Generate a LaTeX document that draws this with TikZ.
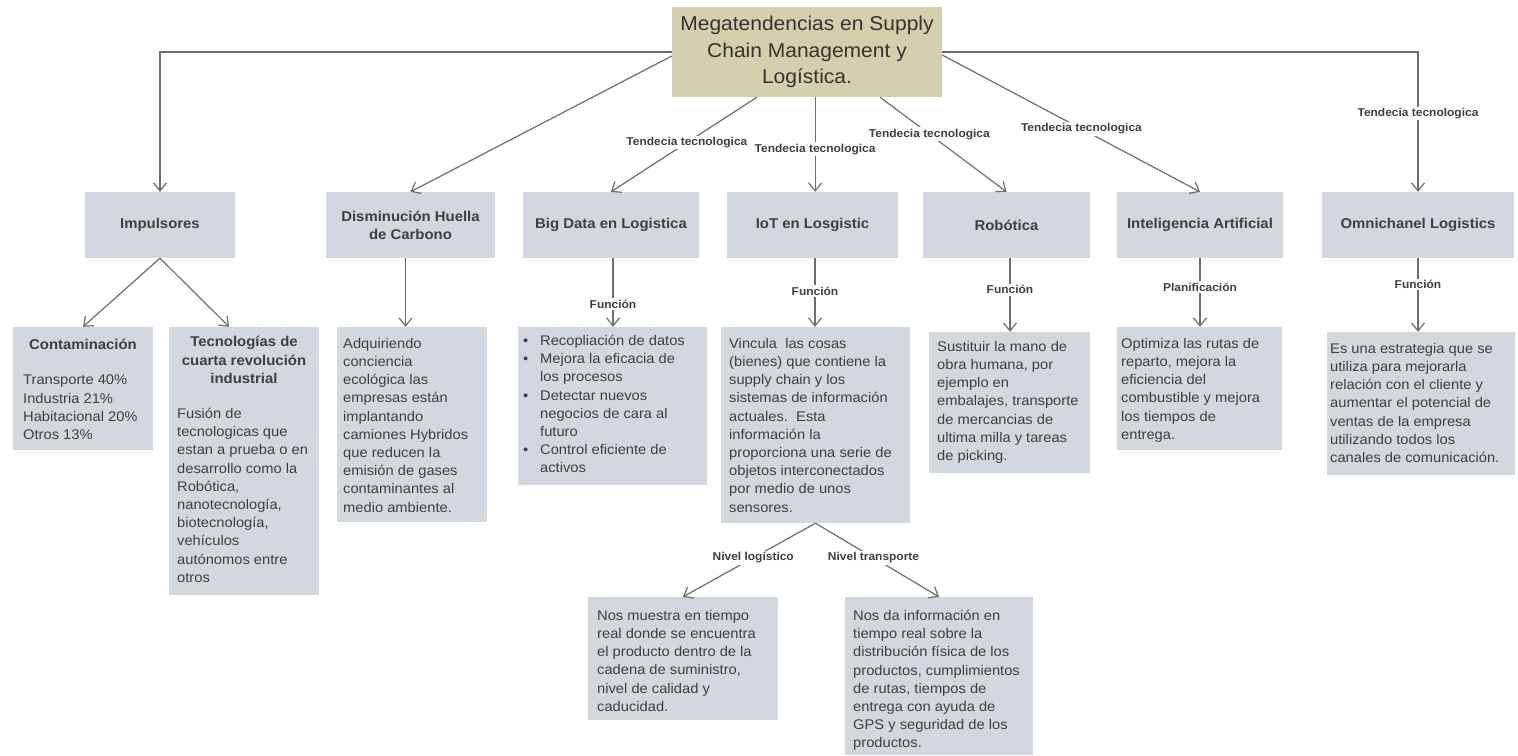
\documentclass[tikz,border=0pt]{standalone}
\usepackage{fontspec}
\setmainfont{Liberation Sans}[FakeStretch=1.05]
\usetikzlibrary{arrows.meta,calc,fit}
\definecolor{boxgray}{HTML}{D3D7DE}
\definecolor{titletan}{HTML}{D6CFAE}
\definecolor{ink}{HTML}{3F3F3F}
\definecolor{linegray}{HTML}{6E6E6E}
\begin{document}
\begin{tikzpicture}[x=1pt,y=-1pt,
  mbox/.style={fill=boxgray,inner sep=0pt,draw=none},
  hdtext/.style={font=\fontsize{14.2}{18.2}\selectfont\bfseries,text=ink,align=center,inner sep=0pt},
  bdtext/.style={font=\fontsize{14}{18.2}\selectfont,text=ink,align=left,inner sep=0pt,anchor=north west},
  lbl/.style={font=\fontsize{11.4}{13}\selectfont\bfseries,text=ink,fill=white,inner sep=1.5pt},
  conn/.style={draw=linegray,line width=1.2pt,-{Straight Barb[length=8pt,width=13pt]}}]
\useasboundingbox[fill=white] (0,0) rectangle (1518,755);

% ---------- boxes ----------
\node[mbox,fill=titletan,fit={(672,7) (942,97)}] (title) {};
\node[mbox,fit={(85,192) (235,258)}] (imp) {};
\node[mbox,fit={(326,192) (495,258)}] (dis) {};
\node[mbox,fit={(523,192) (699,258)}] (bd) {};
\node[mbox,fit={(727,192) (898,258)}] (iot) {};
\node[mbox,fit={(923,192) (1090,258)}] (rob) {};
\node[mbox,fit={(1117,192) (1283,258)}] (ia) {};
\node[mbox,fit={(1322,192) (1514,258)}] (omni) {};
\node[mbox,fit={(13,327) (153,450)}] (cont) {};
\node[mbox,fit={(169,327) (319,595)}] (tec) {};
\node[mbox,fit={(337,327) (487,522)}] (adq) {};
\node[mbox,fit={(518,327) (707,485)}] (bdl) {};
\node[mbox,fit={(721,327) (910,523)}] (iotl) {};
\node[mbox,fit={(929,332) (1090,473)}] (robl) {};
\node[mbox,fit={(1117,327) (1282,450)}] (ial) {};
\node[mbox,fit={(1327,332) (1515,475)}] (omnil) {};
\node[mbox,fit={(588,597) (778,720)}] (nm) {};
\node[mbox,fit={(845,597) (1033,755)}] (nd) {};

% ---------- texts ----------
\node[font=\fontsize{20}{26.5}\selectfont,text=black!80,align=center,inner sep=0pt] (title-t) at (title.center)
  {Megatendencias en Supply\\Chain Management y\\Logística.};
\node[hdtext] (imp-t) at (imp.center) {Impulsores};
\node[hdtext] (dis-t) at (dis.center) {Disminución Huella\\de Carbono};
\node[hdtext] (bd-t) at (bd.center) {Big Data en Logistica};
\node[hdtext] (iot-t) at (iot.center) {IoT en Losgistic};
\node[hdtext] (rob-t) at (rob.center) {Robótica};
\node[hdtext] (ia-t) at (ia.center) {Inteligencia Artificial};
\node[hdtext] (omni-t) at (omni.center) {Omnichanel Logistics};

\node[hdtext] (cont-h) at (83,344) {Contaminación};
\node[bdtext] (cont-t) at (23,375) {Transporte 40\%\\Industria 21\%\\Habitacional 20\%\\Otros 13\%};
\node[hdtext] (tec-h) at (244,360) {Tecnologías de\\cuarta revolución\\industrial};
\node[bdtext] (tec-t) at (177,408) {Fusión de\\tecnologicas que\\estan a prueba o en\\desarrollo como la\\Robótica,\\nanotecnología,\\biotecnología,\\vehículos\\autónomos entre\\otros};
\node[bdtext] (adq-t) at (343,338) {Adquiriendo\\conciencia\\ecológica las\\empresas están\\implantando\\camiones Hybridos\\que reducen la\\emisión de gases\\contaminantes al\\medio ambiente.};
\node[bdtext] (bdl-t) at (523,335) {\makebox[17pt][l]{\textbullet}Recopliación de datos\\
  \makebox[17pt][l]{\textbullet}Mejora la eficacia de\\\hspace*{17pt}los procesos\\
  \makebox[17pt][l]{\textbullet}Detectar nuevos\\\hspace*{17pt}negocios de cara al\\\hspace*{17pt}futuro\\
  \makebox[17pt][l]{\textbullet}Control eficiente de\\\hspace*{17pt}activos};
\node[bdtext] (iotl-t) at (729,338) {Vincula\ \ las cosas\\(bienes) que contiene la\\supply chain y los\\sistemas de información\\actuales.\ \ Esta\\información la\\proporciona una serie de\\objetos interconectados\\por medio de unos\\sensores.};
\node[bdtext] (robl-t) at (937,341) {Sustituir la mano de\\obra humana, por\\ejemplo en\\embalajes, transporte\\de mercancias de\\ultima milla y tareas\\de picking.};
\node[bdtext] (ial-t) at (1121,338) {Optimiza las rutas de\\reparto, mejora la\\eficiencia del\\combustible y mejora\\los tiempos de\\entrega.};
\node[bdtext] (omnil-t) at (1330,343) {Es una estrategia que se\\utiliza para mejorarla\\relación con el cliente y\\aumentar el potencial de\\ventas de la empresa\\utilizando todos los\\canales de comunicación.};
\node[bdtext] (nm-t) at (597,610) {Nos muestra en tiempo\\real donde se encuentra\\el producto dentro de la\\cadena de suministro,\\nivel de calidad y\\caducidad.};
\node[bdtext] (nd-t) at (853,610) {Nos da información en\\tiempo real sobre la\\distribución física de los\\productos, cumplimientos\\de rutas, tiempos de\\entrega con ayuda de\\GPS y seguridad de los\\productos.};

% ---------- connectors from the title ----------
\coordinate (tBD) at ($(title.south west)!0.315!(title.south east)$);
\coordinate (tIoT) at ($(title.south west)!0.53!(title.south east)$);
\coordinate (tRob) at ($(title.south west)!0.77!(title.south east)$);
\draw[conn] (title.west) -| (imp.north);
\draw[conn] ([yshift=-4pt]title.west) -- (dis.north);
\draw[conn] (tBD) -- node[lbl,pos=0.48] {Tendecia tecnologica} (bd.north);
\draw[conn] (tIoT) -- node[lbl,pos=0.55] {Tendecia tecnologica} (tIoT |- iot.north);
\draw[conn] (tRob) -- node[lbl,pos=0.39] {Tendecia tecnologica} (rob.north);
\draw[conn] ([yshift=-3pt]title.east) -- node[lbl,pos=0.54] {Tendecia tecnologica} (ia.north);
\draw[conn] (title.east) -| node[lbl,pos=0.72] {Tendecia tecnologica} (omni.north);

% ---------- second level ----------
\draw[conn] (imp.south) -- (cont.north);
\draw[conn] (imp.south) -- ([xshift=-15pt]tec.north);
\draw[conn] ([xshift=-5pt]dis.south) -- ([xshift=-5pt]dis.south |- adq.north);
\draw[conn] ([xshift=2pt]bd.south) -- node[lbl,pos=0.67] {Función} ([xshift=2pt]bd.south |- bdl.north);
\draw[conn] ([xshift=2.5pt]iot.south) -- node[lbl,pos=0.48] {Función} ([xshift=2.5pt]iot.south |- iotl.north);
\draw[conn] ([xshift=3.5pt]rob.south) -- node[lbl,pos=0.43] {Función} ([xshift=3.5pt]rob.south |- robl.north);
\draw[conn] (ia.south) -- node[lbl,pos=0.42] {Planificación} (ia.south |- ial.north);
\draw[conn] (omni.south) -- node[lbl,pos=0.36] {Función} (omni.south |- omnil.north);

% ---------- third level ----------
\draw[conn] (iotl.south) -- node[lbl,pos=0.47] {Nivel logístico} (nm.north);
\draw[conn] (iotl.south) -- node[lbl,pos=0.47] {Nivel transporte} (nd.north);
\end{tikzpicture}
\end{document}
